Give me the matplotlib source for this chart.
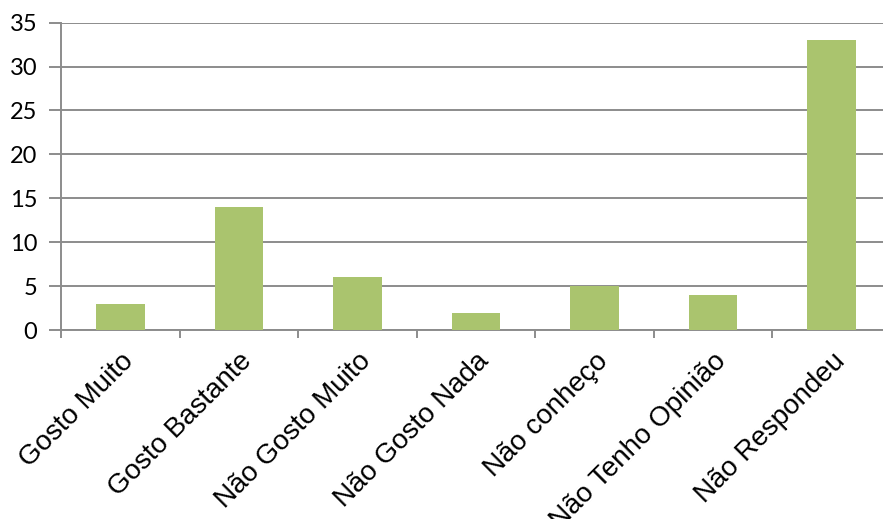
import matplotlib
matplotlib.use('Agg')
import matplotlib.pyplot as plt
import numpy as np

# respostas ao inquérito
categorias = ["Gosto Muito", "Gosto Bastante", "Não Gosto Muito", "Não Gosto Nada",
              "Não conheço", "Não Tenho Opinião", "Não Respondeu"]
valores = [3, 14, 6, 2, 5, 4, 33]
y_ticks = [0, 5, 10, 15, 20, 25, 30, 35]

fig = plt.figure(figsize=(8.83, 5.19), dpi=100)
ax = fig.add_axes([0.0691, 0.364, 0.940, 0.5925])

x = np.arange(len(categorias))
ax.bar(x, valores, width=0.41, color='#AAC46E', zorder=3)

ax.set_xlim(-0.5, len(categorias) - 0.5)
ax.set_ylim(0, 35)
ax.set_yticks(y_ticks)
ax.set_yticklabels([str(v) for v in y_ticks], fontsize=17, family='Lato')
ax.grid(axis='y', color='#8C8C8C', linewidth=1.4, zorder=0)

# marcas do eixo x nos limites das categorias
ax.set_xticks(np.arange(len(categorias) + 1) - 0.5)
ax.set_xticklabels([])
ax.set_xticks(x, minor=True)
ax.set_xticklabels(categorias, minor=True, rotation=45, ha='right',
                   rotation_mode='anchor', fontsize=20, family='Liberation Sans')
ax.tick_params(axis='x', which='minor', length=0, pad=13)
ax.tick_params(axis='x', which='major', length=6, width=1.4, color='#8C8C8C')
ax.tick_params(axis='y', length=9, width=1.4, color='#8C8C8C', pad=8)

for s in ['top', 'right']:
    ax.spines[s].set_visible(False)
for s in ['left', 'bottom']:
    ax.spines[s].set_color('#8C8C8C')
    ax.spines[s].set_linewidth(1.4)

fig.savefig('out.png', dpi=100)
